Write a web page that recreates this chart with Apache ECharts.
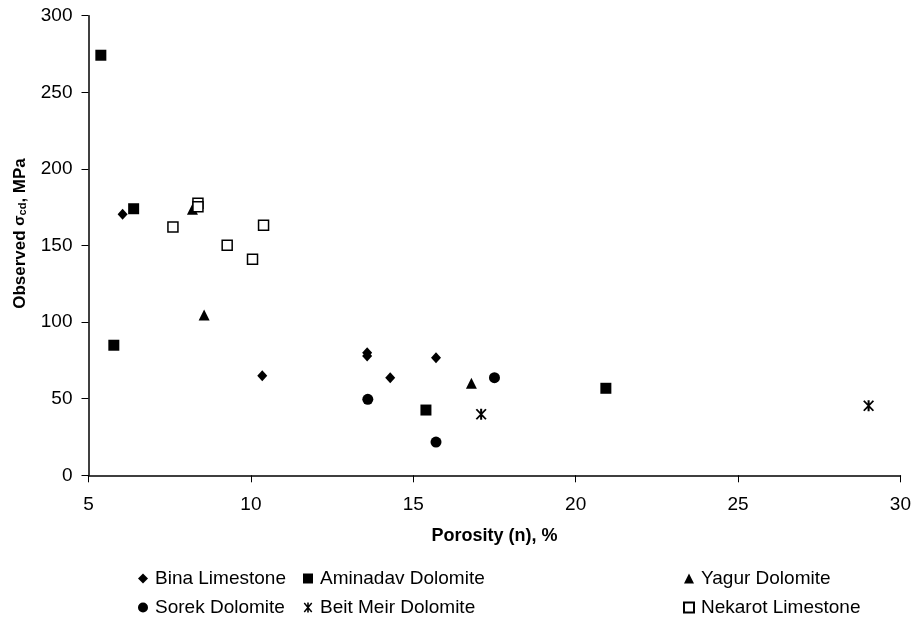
<!DOCTYPE html>
<html>
<head>
<meta charset="utf-8">
<script src="https://cdn.jsdelivr.net/npm/echarts@6/dist/echarts.min.js"></script>
<style>
  html, body { margin: 0; padding: 0; background: #fff; }
  #chart { width: 914px; height: 621px; }
</style>
</head>
<body>
<div id="chart"></div>
<script>
// porosity (%) , observed sigma_cd (MPa)
const binaLimestone = [[6.05, 170.4], [10.35, 65], [13.58, 80], [13.58, 77.8], [14.29, 63.7], [15.7, 76.8]];
const aminadavDolomite = [[5.38, 274.2], [6.39, 174], [5.78, 84.9], [15.39, 42.6], [20.93, 56.8]];
const yagurDolomite = [[8.2, 173.6], [8.56, 104.6], [16.79, 60.1]];
const sorekDolomite = [[13.6, 49.6], [15.7, 21.7], [17.5, 63.7]];
const beitMeirDolomite = [[17.09, 39.8], [29.02, 45.4]];
const nekarotLimestone = [[8.37, 177.5], [8.37, 175.3], [7.6, 162.1], [9.27, 150.1], [10.05, 141], [10.39, 163.2]];

const xTicks = { min: 5, max: 30, interval: 5 };
const yTicks = { min: 0, max: 300, interval: 50 };

const FONT = "Liberation Sans, Arial, sans-serif";
// asterisk made of three bars
const ASTERISK = "path://M-1.6,-10L1.6,-10L1.6,10L-1.6,10Z" +
  "M-8.6,-8.2L-6.4,-10L8.6,8.2L6.4,10Z" +
  "M6.4,-10L8.6,-8.2L-6.4,10L-8.6,8.2Z";

const chart = echarts.init(document.getElementById("chart"));

function scatter(name, data, symbol, size, style) {
  return {
    name: name,
    type: "scatter",
    data: data,
    symbol: symbol,
    symbolSize: size,
    itemStyle: style || { color: "#000", opacity: 1 },
    emphasis: { disabled: true }
  };
}

const legendBase = {
  orient: "vertical",
  top: 569,
  height: 50,
  padding: 0,
  itemGap: 10,
  itemWidth: 10,
  itemHeight: 10,
  textStyle: { fontFamily: FONT, fontSize: 19, lineHeight: 19, color: "#000", padding: [0, 0, 0, 2] },
  selectedMode: false
};

const option = {
  backgroundColor: "#fff",
  animation: false,
  grid: { left: 88.5, right: 12, top: 15.7, bottom: 145.7 },
  xAxis: {
    type: "value",
    min: xTicks.min, max: xTicks.max, interval: xTicks.interval,
    name: "Porosity (n), %",
    nameLocation: "middle",
    nameGap: 52,
    nameTextStyle: { fontFamily: FONT, fontSize: 18, fontWeight: "bold", color: "#000" },
    axisLine: { lineStyle: { color: "#000", width: 1.5 } },
    axisTick: { length: 7, lineStyle: { color: "#000" } },
    axisLabel: { fontFamily: FONT, fontSize: 19, color: "#000", margin: 20 },
    splitLine: { show: false }
  },
  yAxis: {
    type: "value",
    min: yTicks.min, max: yTicks.max, interval: yTicks.interval,
    name: "{a|Observed }{b|σ}{c|cd}{a|, MPa}",
    nameLocation: "middle",
    nameGap: 60,
    nameTextStyle: {
      fontFamily: FONT, color: "#000", padding: [0, 0, 0, 24],
      rich: {
        a: { fontFamily: FONT, fontSize: 17, fontWeight: "bold", color: "#000" },
        b: { fontFamily: FONT, fontSize: 15, fontWeight: "bold", color: "#000" },
        c: { fontFamily: FONT, fontSize: 11, fontWeight: "bold", color: "#000", verticalAlign: "bottom", padding: [6, 0, 0, 0] }
      }
    },
    axisLine: { show: true, lineStyle: { color: "#000", width: 1.5 } },
    axisTick: { show: true, length: 7, lineStyle: { color: "#000" } },
    axisLabel: { fontFamily: FONT, fontSize: 19, color: "#000", margin: 16 },
    splitLine: { show: false }
  },
  legend: [
    Object.assign({}, legendBase, { left: 138, data: ["Bina Limestone", "Sorek Dolomite"] }),
    Object.assign({}, legendBase, { left: 303, data: ["Aminadav Dolomite", "Beit Meir Dolomite"] }),
    Object.assign({}, legendBase, { left: 683, data: ["Yagur Dolomite", "Nekarot Limestone"] })
  ],
  series: [
    scatter("Bina Limestone", binaLimestone, "diamond", [10, 11]),
    scatter("Aminadav Dolomite", aminadavDolomite, "rect", 11),
    scatter("Yagur Dolomite", yagurDolomite, "triangle", 11),
    scatter("Sorek Dolomite", sorekDolomite, "circle", 11),
    scatter("Beit Meir Dolomite", beitMeirDolomite, ASTERISK, 11),
    scatter("Nekarot Limestone", nekarotLimestone, "rect", 10,
      { color: "#fff", borderColor: "#000", borderWidth: 1.5, opacity: 1 })
  ]
};

chart.setOption(option);
</script>
</body>
</html>
